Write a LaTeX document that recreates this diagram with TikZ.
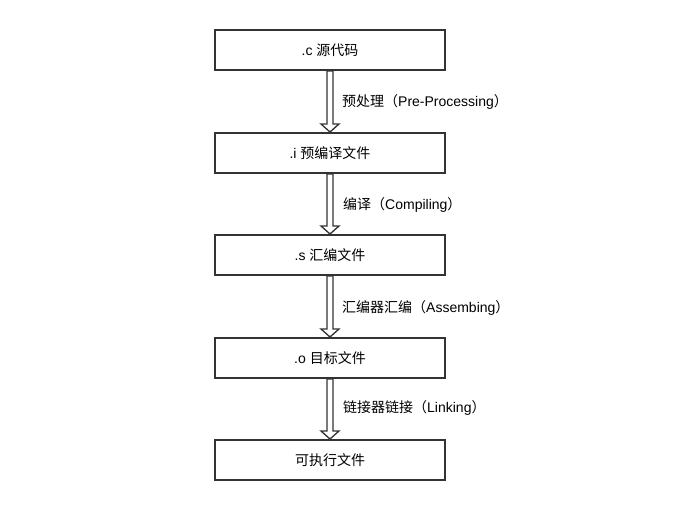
\documentclass[tikz,border=0pt]{standalone}
\usepackage{fontspec}
\setmainfont{Liberation Sans}
\newfontfamily\cjk{Noto Sans CJK SC}
\usetikzlibrary{calc}
\definecolor{edge}{HTML}{333333}
\tikzset{
  stagebox/.style={draw=edge, line width=2pt, fill=white, minimum width=230pt, minimum height=40pt, inner sep=0pt, font=\fontsize{14pt}{16pt}\selectfont},
  lbl/.style={anchor=west, inner sep=0pt, font=\fontsize{14pt}{16pt}\selectfont},
  hollow/.style={draw=edge, line width=1.3pt, fill=white, line join=miter}
}
\newcommand{\hollowarrow}[2]{%
  \draw[hollow] ($(#1.south)+(-3,0)$) -- ($(#2.north)+(-3,-8)$) -- ($(#2.north)+(-9,-8)$) -- (#2.north) -- ($(#2.north)+(9,-8)$) -- ($(#2.north)+(3,-8)$) -- ($(#1.south)+(3,0)$) -- cycle;}
\begin{document}
\begin{tikzpicture}[x=1pt,y=-1pt]
\useasboundingbox (0,0) rectangle (678,520);
\node[stagebox] (c) at (330,50) {.c {\cjk 源代码}};
\node[stagebox] (i) at (330,153) {.i {\cjk 预编译文件}};
\node[stagebox] (s) at (330,255) {.s {\cjk 汇编文件}};
\node[stagebox] (o) at (330,358) {.o {\cjk 目标文件}};
\node[stagebox] (e) at (330,460) {{\cjk 可执行文件}};
\hollowarrow{c}{i}
\hollowarrow{i}{s}
\hollowarrow{s}{o}
\hollowarrow{o}{e}
\node[lbl] (l1) at (342,102) {{\cjk 预处理（}Pre-Processing{\cjk ）}};
\node[lbl] (l2) at (343,205) {{\cjk 编译（}Compiling{\cjk ）}};
\node[lbl] (l3) at (342,308) {{\cjk 汇编器汇编（}Assembing{\cjk ）}};
\node[lbl] (l4) at (343,408) {{\cjk 链接器链接（}Linking{\cjk ）}};
\end{tikzpicture}
\end{document}
